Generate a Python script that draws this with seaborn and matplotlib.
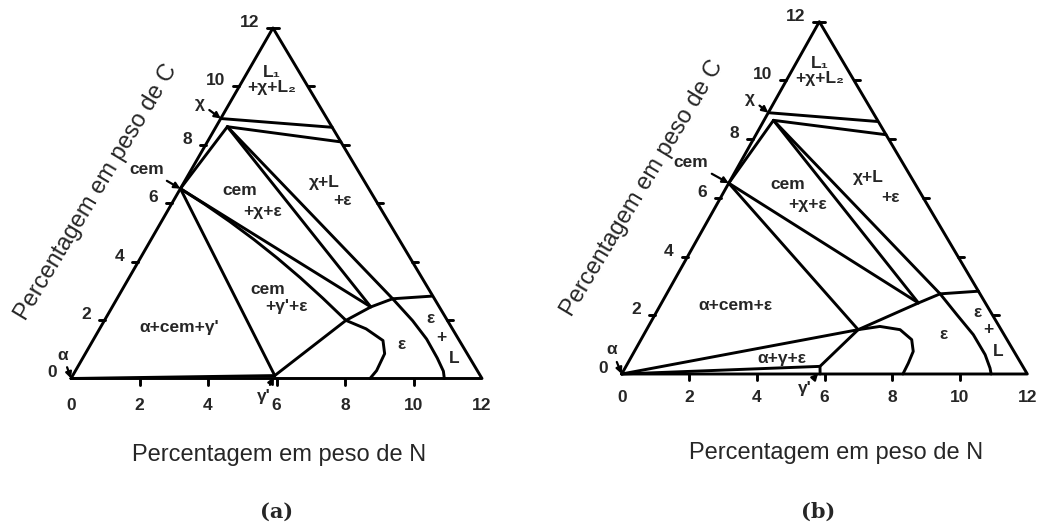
import matplotlib
matplotlib.use("Agg")
import matplotlib.pyplot as plt
import pandas as pd
import seaborn as sns

sns.set_theme(style="white")
plt.rcParams["font.family"] = ["Liberation Sans", "DejaVu Sans"]

W, H = 1041, 529

# Axis scales (wt.%): N along the base, C along the left side
n_ticks = [0, 2, 4, 6, 8, 10, 12]
c_ticks = [0, 2, 4, 6, 8, 10, 12]
n_title = "Percentagem em peso de N"
c_title = "Percentagem em peso de C"

# ---------------- diagram (a): boundaries as (N, C) wt.% points ----------------
a_chi_L1 = [(0.0, 8.90), (3.40, 8.60)]
a_chi2_L = [(0.33, 8.62), (3.90, 8.10)]
a_cem_chi2 = [(0.0, 6.50), (0.33, 8.62)]
a_chi2_A = [(0.33, 8.62), (7.55, 2.45)]
a_chi2_B = [(0.33, 8.62), (8.05, 2.73)]
a_cem_A = [(0.0, 6.50), (7.55, 2.45)]
a_cem_C = [(0.0, 6.50), (1.0, 5.95), (2.0, 5.37), (3.0, 4.76), (4.0, 4.12),
           (5.0, 3.45), (6.0, 2.75), (7.05, 1.99)]
a_cem_gam = [(0.0, 6.50), (5.90, 0.10)]
a_gam_CAB = [(5.90, 0.10), (7.05, 1.99), (7.55, 2.45), (8.05, 2.73), (9.15, 2.82)]
a_B_curve = [(8.05, 2.73), (9.0, 1.98), (9.72, 1.35), (10.35, 0.70), (10.75, 0.25), (10.90, 0.0)]
a_C_curve = [(7.05, 1.99), (7.78, 1.70), (8.47, 1.30), (8.74, 0.85), (8.79, 0.27), (8.73, 0.0)]
a_alp_gam = [(0.0, 0.0), (5.90, 0.10)]

# ---------------- diagram (b) ----------------
b_chi_L1 = [(0.0, 8.90), (3.38, 8.60)]
b_chi2_L = [(0.28, 8.64), (3.85, 8.15)]
b_cem_chi2 = [(0.0, 6.50), (0.28, 8.64)]
b_chi2_A = [(0.28, 8.64), (7.60, 2.42)]
b_chi2_B = [(0.28, 8.64), (8.09, 2.73)]
b_cem_A = [(0.0, 6.50), (7.60, 2.42)]
b_cem_D = [(0.0, 6.50), (6.26, 1.51)]
b_alp_D = [(0.0, 0.0), (6.26, 1.51)]
b_DAB = [(6.26, 1.51), (7.60, 2.42), (8.09, 2.73), (9.18, 2.82)]
b_B_curve = [(8.09, 2.73), (8.92, 2.03), (9.75, 1.34), (10.43, 0.66), (10.80, 0.20), (10.93, 0.0)]
b_D_curve = [(6.26, 1.51), (6.85, 1.62), (7.50, 1.51), (8.01, 1.17), (8.25, 0.77), (8.30, 0.37), (8.32, 0.0)]
b_D_E = [(6.26, 1.51), (5.74, 0.26), (5.87, 0.0)]
b_alp_E = [(0.0, 0.0), (5.74, 0.26)]

# Phase-field labels: (text, N, C)
a_fields = [("L\u2081\n+\u03c7+L\u2082", 0.85, 10.22),
            ("cem", 1.76, 6.45), ("+\u03c7+\u03b5", 2.79, 5.73),
            ("\u03c7+L", 4.10, 6.72), ("+\u03b5", 4.92, 6.10),
            ("cem", 4.26, 3.03), ("+\u03b3'+\u03b5", 5.06, 2.48),
            ("\u03b1+cem+\u03b3'", 2.30, 1.73),
            ("\u03b5", 9.08, 1.18),
            ("\u03b5", 9.49, 2.07), ("+", 10.13, 1.42), ("L", 10.84, 0.70)]
b_fields = [("L\u2081\n+\u03c7+L\u2082", 0.84, 10.32),
            ("cem", 1.78, 6.44), ("+\u03c7+\u03b5", 2.69, 5.79),
            ("\u03c7+L", 4.05, 6.68), ("+\u03b5", 5.02, 6.02),
            ("\u03b1+cem+\u03b5", 2.21, 2.35),
            ("\u03b1+\u03b3+\u03b5", 4.48, 0.54),
            ("\u03b5", 8.86, 1.33),
            ("\u03b5", 9.51, 2.11), ("+", 10.11, 1.50), ("L", 10.77, 0.75)]

# Single-phase points with pointer arrows: (text, label N, label C, point N, point C)
a_points = [("\u03c7", -0.87, 9.43, 0.0, 8.90), ("cem", -1.30, 7.16, 0.0, 6.50),
            ("\u03b1", -0.63, 0.80, 0.0, 0.0), ("\u03b3'", 5.94, -0.63, 5.90, 0.05)]
b_points = [("\u03c7", -0.78, 9.40, 0.0, 8.90), ("cem", -1.46, 7.21, 0.0, 6.50),
            ("\u03b1", -0.69, 0.82, 0.0, 0.0), ("\u03b3'", 5.66, -0.48, 5.80, 0.02)]

panels = [
    dict(tag="(a)", lines=[a_chi_L1, a_chi2_L, a_cem_chi2, a_chi2_A, a_chi2_B, a_cem_A,
                           a_cem_C, a_cem_gam, a_gam_CAB, a_B_curve, a_C_curve, a_alp_gam],
         fields=a_fields, points=a_points,
         x0=71.0, y0=378.5, sx=34.25, kx=16.83, sy=29.21, nlab_dy=27,
         ctitle_xy=(96, 192), ntitle_xy=(279, 455), tag_xy=(277, 512)),
    dict(tag="(b)", lines=[b_chi_L1, b_chi2_L, b_cem_chi2, b_chi2_A, b_chi2_B, b_cem_A,
                           b_cem_D, b_alp_D, b_DAB, b_B_curve, b_D_curve, b_D_E, b_alp_E],
         fields=b_fields, points=b_points,
         x0=621.7, y0=374.0, sx=33.8, kx=16.47, sy=29.36, nlab_dy=24,
         ctitle_xy=(642, 188), ntitle_xy=(836, 453), tag_xy=(818, 512)),
]

fig = plt.figure(figsize=(W / 100, H / 100), dpi=100)
LW = 2.1

for p in panels:
    ax = fig.add_axes([0, 0, 1, 1])
    ax.patch.set_alpha(0)
    sx, sy, shear = p["sx"], p["sy"], p["kx"] / p["sx"]
    ax.set_xlim(-p["x0"] / sx, (W - p["x0"]) / sx)
    ax.set_ylim(-(H - p["y0"]) / sy, p["y0"] / sy)
    ax.set_axis_off()

    def tx(n, c):
        return n + shear * c, c

    rows = []
    def add(seg, pts):
        for n, c in pts:
            x, y = tx(n, c)
            rows.append(dict(seg=seg, x=x, y=y))

    # triangle frame
    add("frame", [(0, 0), (12, 0), (0, 12), (0, 0)])
    # tick marks: base (down), left side (left), right side (right)
    tl_x, tl_y = 6 / sx, 6 / sy
    for v in n_ticks[1:-1]:
        x, y = tx(v, 0)
        rows += [dict(seg=f"tb{v}", x=x, y=0), dict(seg=f"tb{v}", x=x, y=-tl_y)]
    for v in c_ticks[1:-1]:
        x, y = tx(0, v)
        rows += [dict(seg=f"tl{v}", x=x, y=y), dict(seg=f"tl{v}", x=x - tl_x, y=y)]
        x, y = tx(12 - v, v)
        rows += [dict(seg=f"tr{v}", x=x, y=y), dict(seg=f"tr{v}", x=x + tl_x, y=y)]
    x, y = tx(0, 12)
    rows += [dict(seg="apex", x=x - tl_x, y=y), dict(seg="apex", x=x + tl_x, y=y)]

    for i, pts in enumerate(p["lines"]):
        add(f"b{i}", pts)

    df = pd.DataFrame(rows)
    sns.lineplot(data=df, x="x", y="y", units="seg", estimator=None, sort=False,
                 color="black", lw=LW, ax=ax, legend=False)

    # tick labels
    for v in c_ticks:
        ax.annotate(str(v), tx(0, v), xytext=(-10, 4), textcoords="offset points",
                    ha="right", va="center", fontsize=12.5, fontweight="bold")
    for v in n_ticks:
        ax.annotate(str(v), tx(v, 0), xytext=(0, -p["nlab_dy"] * 0.72),
                    textcoords="offset points", ha="center", va="center",
                    fontsize=12.5, fontweight="bold")

    # phase-field labels
    for txt, n, c in p["fields"]:
        x, y = tx(n, c)
        ax.text(x, y, txt, ha="center", va="center", fontsize=12.5,
                linespacing=1.0, fontweight="bold")

    # single-phase points
    for txt, ln, lc, pn, pc in p["points"]:
        ax.annotate(txt, xy=tx(pn, pc), xytext=tx(ln, lc), ha="center", va="center",
                    fontsize=12.5, fontweight="bold",
                    arrowprops=dict(arrowstyle="-|>", color="black", lw=1.6,
                                    mutation_scale=9, shrinkA=1, shrinkB=0))

    cx, cy = p["ctitle_xy"]
    fig.text(cx / W, 1 - cy / H, c_title, rotation=59, ha="center", va="center",
             fontsize=17)
    nx, ny = p["ntitle_xy"]
    fig.text(nx / W, 1 - ny / H, n_title, ha="center", va="center", fontsize=17)
    gx, gy = p["tag_xy"]
    fig.text(gx / W, 1 - gy / H, p["tag"], ha="center", va="center", fontsize=15,
             fontweight="bold", family=["DejaVu Serif"])

fig.savefig("out.png", dpi=100, facecolor="white")
